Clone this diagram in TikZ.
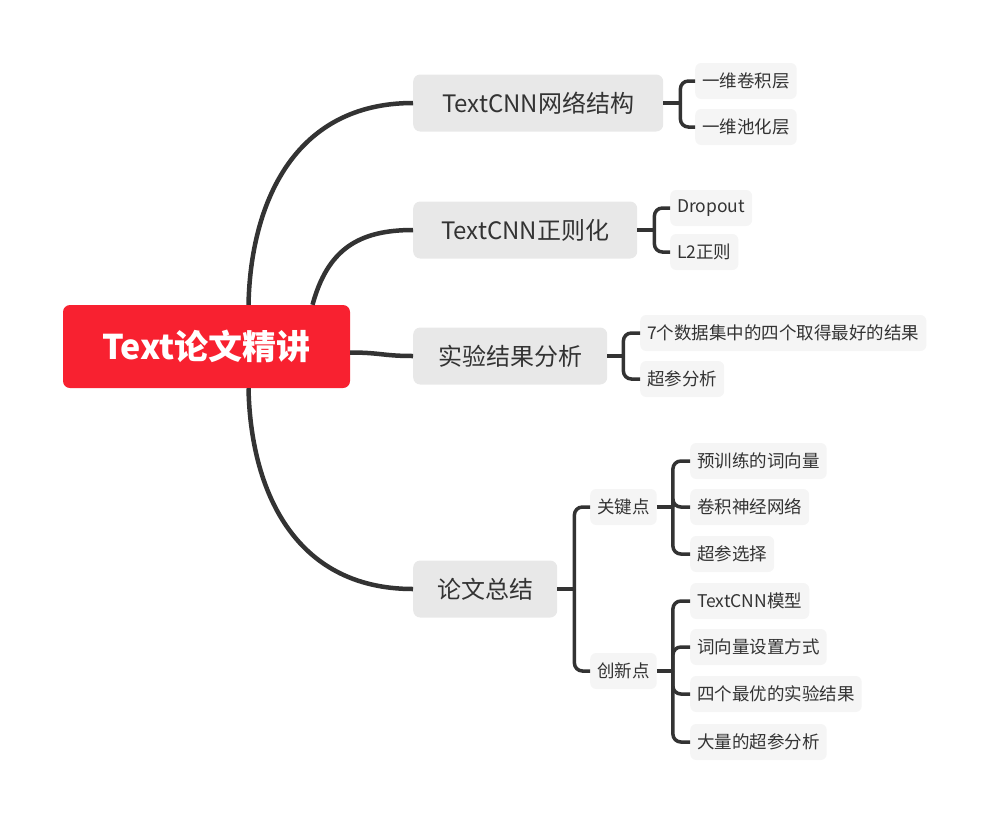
\documentclass[tikz,border=0pt]{standalone}
\usepackage{fontspec}
\setmainfont{Noto Sans CJK SC}
\usetikzlibrary{positioning, calc}
\definecolor{rootred}{RGB}{248,33,48}
\definecolor{topicgray}{RGB}{232,232,232}
\definecolor{subgray}{RGB}{245,245,245}
\definecolor{linedark}{RGB}{51,51,51}
\definecolor{textdark}{RGB}{51,51,51}
\tikzset{
  root/.style={
    rectangle, rounded corners=7pt, minimum width=287pt, minimum height=83pt,
    fill=rootred, text=white, font=\fontsize{34}{40}\selectfont\bfseries
  },
  topic/.style={
    rectangle, rounded corners=7pt, minimum height=57pt, anchor=west,
    fill=topicgray, text=textdark, font=\fontsize{24}{28}\selectfont
  },
  subtopic/.style={
    rectangle, rounded corners=6pt, minimum height=36pt, inner xsep=7pt,
    anchor=west, fill=subgray, text=textdark, font=\fontsize{17.5}{20}\selectfont
  },
  trunk/.style={line width=4.5pt, draw=linedark},
  branch/.style={line width=3.5pt, draw=linedark, rounded corners=8pt}
}

\begin{document}
\begin{tikzpicture}[x=1pt, y=-1pt]
  \useasboundingbox (0,0) rectangle (990,823);

  % Root
  \node[root] (root) at (206.5,346.5) {Text论文精讲};

  % Main topics
  \node[topic, minimum width=250pt] (net) at (413,103) {TextCNN网络结构};
  \node[topic, minimum width=224pt] (reg) at (413,230) {TextCNN正则化};
  \node[topic, minimum width=194pt] (exp) at (413,356) {实验结果分析};
  \node[topic, minimum width=144pt] (sum) at (413,589) {论文总结};

  % Subtopics
  \node[subtopic] (conv) at (695,81)  {一维卷积层};
  \node[subtopic] (pool) at (695,127) {一维池化层};
  \node[subtopic] (drop) at (670,208) {Dropout};
  \node[subtopic] (ltwo) at (670,252) {L2正则};
  \node[subtopic] (best) at (640,333) {7个数据集中的四个取得最好的结果};
  \node[subtopic] (hyp)  at (640,379) {超参分析};
  \node[subtopic] (key)  at (590,507) {关键点};
  \node[subtopic] (nov)  at (590,671) {创新点};

  % Key points / novelties
  \node[subtopic] (kwv)  at (690,461) {预训练的词向量};
  \node[subtopic] (kcnn) at (690,507) {卷积神经网络};
  \node[subtopic] (khyp) at (690,554) {超参选择};
  \node[subtopic] (nmod) at (690,601) {TextCNN模型};
  \node[subtopic] (nwv)  at (690,647) {词向量设置方式};
  \node[subtopic] (nres) at (690,694) {四个最优的实验结果};
  \node[subtopic] (nhyp) at (690,742) {大量的超参分析};

  % Root curves
  \draw[trunk] ([xshift=42pt]root.north) .. controls +(2,-100) and +(-120,0) .. (net.west);
  \draw[trunk] ([xshift=106pt]root.north) .. controls +(15,-55) and +(-55,0) .. (reg.west);
  \draw[trunk] ([yshift=-6pt]root.east) .. controls +(30,0) and +(-30,0) .. (exp.west);
  \draw[trunk] ([xshift=42pt]root.south) .. controls +(2,100) and +(-120,0) .. (sum.west);

  % Brackets
  \draw[branch] (net.east) -- ++(17,0) coordinate (jnet);
  \foreach \c in {conv,pool} \draw[branch] (jnet) |- (\c.west);
  \draw[branch] (reg.east) -- ++(17,0) coordinate (jreg);
  \foreach \c in {drop,ltwo} \draw[branch] (jreg) |- (\c.west);
  \draw[branch] (exp.east) -- ++(16,0) coordinate (jexp);
  \foreach \c in {best,hyp} \draw[branch] (jexp) |- (\c.west);
  \draw[branch] (sum.east) -- ++(17,0) coordinate (jsum);
  \foreach \c in {key,nov} \draw[branch] (jsum) |- (\c.west);
  \draw[branch] (key.east) -- ++(16,0) coordinate (jkey);
  \foreach \c in {kwv,kcnn,khyp} \draw[branch] (jkey) |- (\c.west);
  \draw[branch] (nov.east) -- ++(16,0) coordinate (jnov);
  \foreach \c in {nmod,nwv,nres,nhyp} \draw[branch] (jnov) |- (\c.west);
\end{tikzpicture}
\end{document}
